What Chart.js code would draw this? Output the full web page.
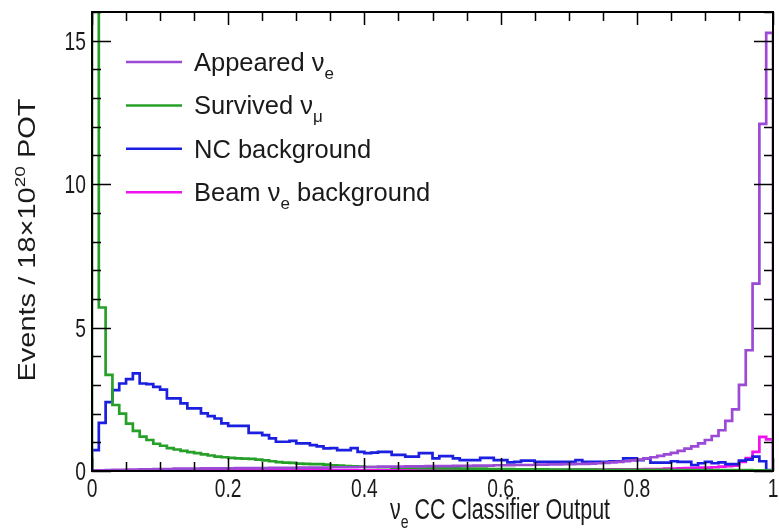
<!DOCTYPE html>
<html>
<head>
<meta charset="utf-8">
<script src="https://cdn.jsdelivr.net/npm/chart.js@4/dist/chart.umd.min.js"></script>
<style>
  html, body { margin: 0; padding: 0; background: #fff; }
  canvas { display: block; }
</style>
</head>
<body>
<canvas id="c" width="779" height="528"></canvas>
<script>
/* ═══════════════════════════════════════════════════════════
   nu_e CC classifier output — overlaid histograms, 100 bins
════════════════════════════════════════════════════════════ */
const BIN_LO = 0, BIN_HI = 1;

const xTickLabels = ['0', '0.2', '0.4', '0.6', '0.8', '1'];
const yTickLabels = ['0', '5', '10', '15'];

// events per bin (bin 0 of survived runs off the top)
const appeared = [
  0.01, 0.02, 0.03, 0.04, 0.04, 0.05, 0.05, 0.06, 0.06, 0.07,
  0.07, 0.07, 0.08, 0.08, 0.08, 0.08, 0.09, 0.09, 0.09, 0.09,
  0.09, 0.10, 0.10, 0.10, 0.10, 0.10, 0.11, 0.11, 0.11, 0.11,
  0.12, 0.12, 0.12, 0.12, 0.12, 0.13, 0.13, 0.13, 0.13, 0.14,
  0.14, 0.14, 0.15, 0.15, 0.15, 0.15, 0.16, 0.16, 0.16, 0.17,
  0.17, 0.17, 0.17, 0.18, 0.18, 0.18, 0.19, 0.19, 0.19, 0.20,
  0.20, 0.20, 0.21, 0.21, 0.21, 0.22, 0.22, 0.23, 0.23, 0.24,
  0.24, 0.25, 0.25, 0.26, 0.27, 0.28, 0.30, 0.32, 0.34, 0.37,
  0.40, 0.44, 0.48, 0.53, 0.58, 0.63, 0.70, 0.78, 0.86, 0.96,
  1.08, 1.22, 1.42, 1.75, 2.15, 3.00, 4.21, 6.53, 12.1, 15.27
];

const survived = [
  40.0, 5.70, 3.35, 2.30, 2.00, 1.65, 1.40, 1.20, 1.08, 0.95,
  0.88, 0.80, 0.75, 0.70, 0.66, 0.62, 0.58, 0.54, 0.50, 0.48,
  0.46, 0.44, 0.43, 0.42, 0.40, 0.37, 0.34, 0.31, 0.29, 0.28,
  0.26, 0.25, 0.24, 0.24, 0.22, 0.20, 0.19, 0.17, 0.16, 0.15,
  0.14, 0.14, 0.13, 0.13, 0.12, 0.12, 0.11, 0.11, 0.10, 0.10,
  0.10, 0.09, 0.09, 0.09, 0.08, 0.08, 0.08, 0.08, 0.07, 0.07,
  0.07, 0.07, 0.06, 0.06, 0.06, 0.06, 0.06, 0.05, 0.05, 0.05,
  0.05, 0.05, 0.05, 0.05, 0.04, 0.04, 0.04, 0.04, 0.04, 0.04,
  0.04, 0.04, 0.04, 0.04, 0.04, 0.03, 0.03, 0.03, 0.03, 0.03,
  0.03, 0.03, 0.03, 0.03, 0.03, 0.03, 0.03, 0.02, 0.02, 0.02
];

const ncBkg = [
  0.73, 1.68, 2.40, 2.82, 3.05, 3.20, 3.40, 3.05, 3.03, 2.93,
  2.84, 2.53, 2.53, 2.36, 2.18, 2.18, 2.01, 1.91, 1.83, 1.66,
  1.57, 1.57, 1.57, 1.33, 1.33, 1.25, 1.14, 1.02, 1.02, 1.05,
  0.96, 0.96, 0.90, 0.86, 0.79, 0.80, 0.73, 0.73, 0.80, 0.67,
  0.62, 0.64, 0.67, 0.67, 0.56, 0.56, 0.50, 0.50, 0.62, 0.62,
  0.44, 0.52, 0.52, 0.44, 0.38, 0.38, 0.38, 0.46, 0.46, 0.38,
  0.38, 0.30, 0.32, 0.36, 0.36, 0.32, 0.32, 0.32, 0.32, 0.32,
  0.32, 0.38, 0.32, 0.32, 0.32, 0.32, 0.34, 0.34, 0.44, 0.44,
  0.38, 0.44, 0.29, 0.29, 0.29, 0.34, 0.32, 0.32, 0.21, 0.27,
  0.32, 0.27, 0.30, 0.24, 0.24, 0.36, 0.40, 0.50, 0.34, 0.03
];

const beamBkg = [
  0.01, 0.01, 0.01, 0.01, 0.01, 0.01, 0.01, 0.01, 0.01, 0.01,
  0.01, 0.01, 0.01, 0.02, 0.02, 0.02, 0.02, 0.02, 0.02, 0.02,
  0.02, 0.02, 0.02, 0.02, 0.02, 0.02, 0.02, 0.02, 0.02, 0.02,
  0.02, 0.02, 0.02, 0.02, 0.02, 0.02, 0.02, 0.02, 0.02, 0.02,
  0.02, 0.02, 0.02, 0.02, 0.03, 0.03, 0.03, 0.03, 0.03, 0.03,
  0.03, 0.03, 0.03, 0.03, 0.03, 0.03, 0.03, 0.03, 0.03, 0.03,
  0.03, 0.03, 0.03, 0.04, 0.04, 0.04, 0.04, 0.04, 0.04, 0.04,
  0.05, 0.05, 0.05, 0.05, 0.05, 0.05, 0.06, 0.06, 0.06, 0.06,
  0.06, 0.07, 0.07, 0.07, 0.08, 0.08, 0.09, 0.10, 0.11, 0.12,
  0.12, 0.13, 0.15, 0.17, 0.19, 0.32, 0.45, 0.67, 1.19, 1.10
];

/* ── styles ──────────────────────────────────────────── */
const FONT = "'Liberation Sans', Arial, Helvetica, sans-serif";
const INK = '#1a1a1a';
const SQUASH = 0.74;          // axis text in the original is horizontally condensed

const series = [
  { label: [{ t: 'Appeared ν' }, { t: 'e', sub: true }],                         data: appeared, color: '#9b4ad6' },
  { label: [{ t: 'Survived ν' }, { t: 'μ', sub: true }],                         data: survived, color: '#27a02a' },
  { label: [{ t: 'NC background' }],                                              data: ncBkg,    color: '#1a1fe0' },
  { label: [{ t: 'Beam ν' }, { t: 'e', sub: true }, { t: ' background' }],        data: beamBkg,  color: '#f012ee' },
];

// histogram outline: left edge up, flat top across each bin, right edge down
function histPoints(vals) {
  const w = (BIN_HI - BIN_LO) / vals.length;
  const pts = [{ x: BIN_LO, y: 0 }];
  vals.forEach((v, i) => {
    pts.push({ x: BIN_LO + i * w, y: v }, { x: BIN_LO + (i + 1) * w, y: v });
  });
  pts.push({ x: BIN_HI, y: 0 });
  return pts;
}

/* ── rich text (sub/superscripts) ───────────────────── */
function partFont(p, size) {
  return `${(p.sub || p.sup) ? Math.round(size * 0.65) : size}px ${FONT}`;
}
function richWidth(ctx, parts, size) {
  let w = 0;
  parts.forEach(p => { ctx.font = partFont(p, size); w += ctx.measureText(p.t).width; });
  return w;
}
function drawRich(ctx, parts, size, x0, y0) {
  let x = x0;
  parts.forEach(p => {
    ctx.font = partFont(p, size);
    const dy = p.sub ? size * 0.3 : p.sup ? -size * 0.42 : 0;
    ctx.fillText(p.t, x, y0 + dy);
    x += ctx.measureText(p.t).width;
  });
}

/* ── frame + inward ticks on all four sides ─────────── */
const frameTicks = {
  id: 'frameTicks',
  afterDatasetsDraw(chart) {
    const { ctx, chartArea: a, scales: { x, y } } = chart;
    ctx.save();
    ctx.strokeStyle = '#000';
    ctx.lineWidth = 1.5;
    ctx.beginPath();
    for (let i = 0; i <= 20; i++) {
      const v = x.min + i * 0.05;
      const px = Math.round(x.getPixelForValue(v)) + 0.5;
      const len = (i % 4 === 0) ? 13 : 9;
      ctx.moveTo(px, a.bottom); ctx.lineTo(px, a.bottom - len);
      ctx.moveTo(px, a.top);    ctx.lineTo(px, a.top + len);
    }
    for (let v = 0; v <= y.max; v += 1) {
      const py = Math.round(y.getPixelForValue(v)) + 0.5;
      const len = (v % 5 === 0) ? 19 : 9;
      ctx.moveTo(a.left, py);  ctx.lineTo(a.left + len, py);
      ctx.moveTo(a.right, py); ctx.lineTo(a.right - len, py);
    }
    ctx.stroke();
    ctx.lineWidth = 2;
    ctx.strokeRect(a.left, a.top, a.right - a.left, a.bottom - a.top);
    ctx.restore();
  }
};

/* ── tick labels, axis titles, legend ───────────────── */
const texts = {
  id: 'texts',
  afterDraw(chart) {
    const { ctx, chartArea: a, scales: { x, y } } = chart;
    ctx.save();
    ctx.fillStyle = INK;
    ctx.textBaseline = 'alphabetic';

    // x tick labels
    const tSize = 26;
    ctx.font = `${tSize}px ${FONT}`;
    xTickLabels.forEach(lbl => {
      const px = x.getPixelForValue(parseFloat(lbl));
      const w = ctx.measureText(lbl).width * SQUASH;
      ctx.save(); ctx.translate(px - w / 2, a.bottom + 26); ctx.scale(SQUASH, 1);
      ctx.fillText(lbl, 0, 0); ctx.restore();
    });
    // y tick labels
    yTickLabels.forEach(lbl => {
      const py = y.getPixelForValue(parseFloat(lbl));
      const w = ctx.measureText(lbl).width * SQUASH;
      ctx.save(); ctx.translate(a.left - 6 - w, py + 9); ctx.scale(SQUASH, 1);
      ctx.fillText(lbl, 0, 0); ctx.restore();
    });

    // axis titles
    const aSize = 29;
    const xTitle = [{ t: 'ν' }, { t: 'e', sub: true }, { t: ' CC Classifier Output' }];
    const xw = richWidth(ctx, xTitle, aSize);
    ctx.save(); ctx.translate(500 - xw * SQUASH / 2, 519); ctx.scale(SQUASH, 1);
    drawRich(ctx, xTitle, aSize, 0, 0); ctx.restore();

    const yTitle = [{ t: 'Events / 18×10' }, { t: '20', sup: true }, { t: ' POT' }];
    const yw = richWidth(ctx, yTitle, aSize);
    ctx.save(); ctx.translate(35, 240); ctx.scale(0.8, 1); ctx.rotate(-Math.PI / 2);
    drawRich(ctx, yTitle, aSize, -yw / 2, 0); ctx.restore();

    // legend
    const lSize = 25.5;
    series.forEach((s, i) => {
      const ly = 62 + i * 43.4;
      ctx.strokeStyle = s.color; ctx.lineWidth = 2.5;
      ctx.beginPath(); ctx.moveTo(126, ly); ctx.lineTo(182, ly); ctx.stroke();
      ctx.fillStyle = INK;
      drawRich(ctx, s.label, lSize, 194, ly + 9);
    });
    ctx.restore();
  }
};

/* ── chart ───────────────────────────────────────────── */
new Chart(document.getElementById('c'), {
  type: 'line',
  data: {
    datasets: series.map(s => ({
      label: s.label.map(p => p.t).join(''),
      data: histPoints(s.data),
      borderColor: s.color,
      borderWidth: 2.7,
      pointRadius: 0,
      tension: 0,
      fill: false,
    }))
  },
  options: {
    responsive: false,
    animation: false,
    layout: { padding: { left: 0, top: 12, right: 6, bottom: 0 } },
    plugins: { legend: { display: false }, tooltip: { enabled: false } },
    scales: {
      x: {
        type: 'linear', min: BIN_LO, max: BIN_HI,
        ticks: { display: false, stepSize: 0.2 },
        grid: { display: false }, border: { display: false },
        afterFit: s => { s.height = 57; }
      },
      y: {
        min: 0, max: 16,
        ticks: { display: false, stepSize: 5, includeBounds: false },
        grid: { display: false }, border: { display: false },
        afterFit: s => { s.width = 92; }
      }
    }
  },
  plugins: [frameTicks, texts]
});
</script>
</body>
</html>
